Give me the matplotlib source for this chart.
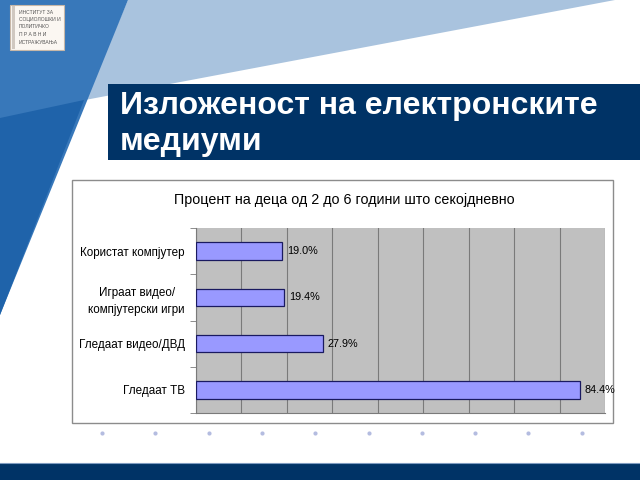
import matplotlib.pyplot as plt
from matplotlib.patches import Polygon, Rectangle

plt.rcParams['font.family'] = ['Liberation Sans', 'DejaVu Sans']

categories = ['Користат компјутер', 'Играат видео/\nкомпјутерски игри',
              'Гледаат видео/ДВД', 'Гледаат ТВ']
values = [19.0, 19.4, 27.9, 84.4]
value_labels = ['19.0%', '19.4%', '27.9%', '84.4%']
slide_title = 'Изложеност на електронските\nмедиуми'
chart_title = 'Процент на деца од 2 до 6 години што секојдневно'
logo_lines = ['ИНСТИТУТ ЗА', 'СОЦИОЛОШКИ И', 'ПОЛИТИЧКО', 'П Р А В Н И', 'ИСТРАЖУВАЊА']

navy = '#003366'

fig = plt.figure(figsize=(6.4, 4.8), dpi=100)
fig.patch.set_facecolor('white')

# slide background, drawn in pixel coordinates
bg = fig.add_axes([0, 0, 1, 1])
bg.set_xlim(0, 640)
bg.set_ylim(480, 0)
bg.axis('off')

bg.add_patch(Polygon([(128, 0), (615, 0), (85, 100)], closed=True,
                     facecolor='#a9c3de', edgecolor='none'))
bg.add_patch(Polygon([(0, 0), (128, 0), (0, 315)], closed=True,
                     facecolor='#3878ba', edgecolor='none'))
bg.add_patch(Polygon([(0, 118), (84, 100), (0, 315)], closed=True,
                     facecolor='#1f63aa', edgecolor='none'))

# logo
bg.add_patch(Rectangle((10, 5), 54, 45, facecolor='#fbf7f2', edgecolor='#c8b8a8', lw=0.8))
bg.add_patch(Rectangle((12, 6), 2.5, 43, facecolor='#d0c8c0', edgecolor='none'))
for i, line in enumerate(logo_lines):
    bg.text(19, 12 + i * 7.5, line, fontsize=3.6, color='#555555', va='center', ha='left')

# title bar
bg.add_patch(Rectangle((108, 84), 532, 76, facecolor=navy, edgecolor='none'))
bg.text(120, 124, slide_title, fontsize=23, fontweight='bold', color='white',
        va='center', ha='left', linespacing=1.3)

# chart frame
bg.add_patch(Rectangle((72, 180), 541, 243, facecolor='white', edgecolor='#8c8c8c', lw=1))
bg.text(344, 200, chart_title, fontsize=10.3, color='black', ha='center', va='center')

# dots row
for k in range(10):
    bg.plot(102 + k * 53.3, 433, 'o', ms=3, color='#b4bce0', mec='none')

# bottom band
bg.add_patch(Rectangle((0, 463), 640, 17, facecolor=navy, edgecolor='none'))
bg.plot([0, 640], [463, 463], color='#7f9cc0', lw=0.8)

# the chart
ax = fig.add_axes([196 / 640, 1 - 413 / 480, 409 / 640, 185 / 480])
ax.set_facecolor('#c0c0c0')
y = list(range(len(categories)))
ax.barh(y, values, height=0.38, color='#9999ff', edgecolor='#1a1a60', lw=0.9, zorder=3)
ax.set_xlim(0, 90)
ax.set_ylim(len(categories) - 0.5, -0.5)
ax.set_xticks(range(0, 91, 10))
ax.xaxis.grid(True, color='#7a7a7a', lw=0.8, zorder=0)
ax.tick_params(axis='x', length=0, labelbottom=False)
ax.set_yticks(y)
ax.set_yticklabels(categories, fontsize=8.4, ha='right', multialignment='center',
                   linespacing=1.6)
ax.tick_params(axis='y', length=0, pad=8)
ax.set_yticks([i + 0.5 for i in range(-1, len(categories))], minor=True)
ax.tick_params(axis='y', which='minor', length=4, color='#7a7a7a', direction='out')
for s in ['top', 'right']:
    ax.spines[s].set_visible(False)
ax.spines['left'].set_color('#7a7a7a')
ax.spines['bottom'].set_color('#7a7a7a')
for yi, v, lab in zip(y, values, value_labels):
    ax.text(v + 1, yi, lab, fontsize=7.8, va='center', ha='left', zorder=4)

fig.savefig('out.png', dpi=100)
